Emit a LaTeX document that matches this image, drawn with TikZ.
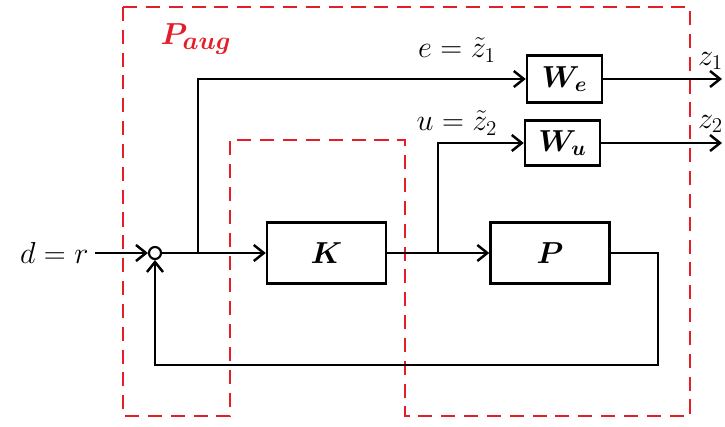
\documentclass[tikz,border=0pt]{standalone}
\usepackage{amsmath,bm}
\usetikzlibrary{arrows.meta,positioning,calc}
\definecolor{augred}{RGB}{228,30,40}

\begin{document}
\begin{tikzpicture}[->,>={Straight Barb[length=2mm,width=3.2mm]},line width=1.4pt,
   blk/.style={draw,minimum width=23.8mm,minimum height=12.2mm,inner sep=0pt,font=\LARGE},
   wblk/.style={blk,minimum width=15mm,minimum height=9.4mm},
   sm/.style={circle,draw,line width=1.2pt,minimum size=2.4mm,inner sep=0pt},
   lbl/.style={font=\LARGE,inner sep=1pt},
   aug/.style={-,draw=augred,dash pattern=on 8pt off 5pt,line width=1.6pt}]
\useasboundingbox (0,0) rectangle (14.5,8.52);
% P_aug boundary
\draw[aug] (2.46,8.38) -- (13.8,8.38) -- (13.8,0.2) -- (8.1,0.2) -- (8.1,5.72)
   -- (4.6,5.72) -- (4.6,0.2) -- (2.46,0.2) -- cycle;
\node[font=\fontsize{19}{22}\selectfont,text=augred] (aug) at (3.92,7.74) {$\bm{P_{aug}}$};
% blocks
\node[sm] (sum) at (3.1,3.46) {};
\node[blk] (K) at (6.53,3.46) {$\bm{K}$};
\node[blk] (P) at (11.0,3.46) {$\bm{P}$};
\node[wblk] (We) at (11.29,6.94) {$\bm{W_e}$};
\node[wblk,minimum height=9mm] (Wu) at (11.25,5.66) {$\bm{W_u}$};
% signals
\coordinate (in) at (1.9,3.46);
\node[lbl,left=2pt of in] (d) {$d=r$};
\coordinate (be) at (3.96,3.46);
\coordinate (bu) at (8.76,3.46);
\coordinate (fb) at (13.16,1.22);
\coordinate (z1) at (14.44,6.94);
\coordinate (z2) at (14.44,5.66);
\draw (in) -- (sum);
\draw (sum) -- (K);
\draw (K) -- (P);
\draw (be) |- (We.west);
\draw (bu) |- (Wu.west);
\draw (We) -- (z1);
\draw (Wu) -- (z2);
\draw (P.east) -- (P.east -| fb) -- (fb) -| (sum.south);
\node[lbl] (e) at (9.14,7.52) {$e=\tilde{z}_1$};
\node[lbl] (u) at (9.14,6.06) {$u=\tilde{z}_2$};
\node[lbl,anchor=west] (l1) at (13.9,7.3) {$z_1$};
\node[lbl,anchor=west] (l2) at (13.9,6.04) {$z_2$};
\end{tikzpicture}
\end{document}
